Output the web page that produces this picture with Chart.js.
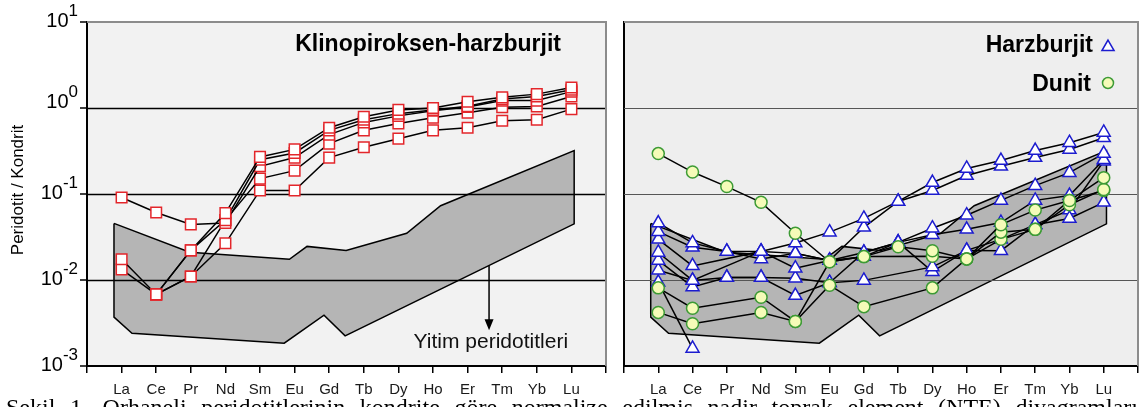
<!DOCTYPE html>
<html>
<head>
<meta charset="utf-8">
<script src="https://cdn.jsdelivr.net/npm/chart.js@4.4.1/dist/chart.umd.min.js"></script>
<style>
  body { margin: 0; width: 1147px; height: 407px; overflow: hidden; background: #fff; position: relative; }
  #left { position: absolute; left: 0; top: 0; }
  #right { position: absolute; left: 615px; top: 0; }
  #caption { position: absolute; left: 6px; top: 395px; width: 1132px; font: 24px/24px "Liberation Serif", serif; white-space: nowrap; text-align: justify; text-align-last: justify; color: #000; }
</style>
</head>
<body>
<canvas id="left" width="615" height="407"></canvas>
<canvas id="right" width="532" height="407"></canvas>
<div id="caption">Şekil 1. Orhaneli peridotitlerinin kondrite göre normalize edilmiş nadir toprak element (NTE) diyagramları</div>
<script>
const ree = ['La', 'Ce', 'Pr', 'Nd', 'Sm', 'Eu', 'Gd', 'Tb', 'Dy', 'Ho', 'Er', 'Tm', 'Yb', 'Lu']
const decades = [10, 1, 0.1, 0.01, 0.001]

// yitim peridotitleri alani (kose noktalari, x = NTE sirasi)
const fieldX = [0.78, 2.97, 5.85, 6.36, 7.49, 9.24, 10.22, 14.08, 14.08, 7.46, 6.85, 5.70, 1.30, 0.78, 0.78]
const fieldY = [0.0455, 0.021, 0.0174, 0.0246, 0.022, 0.035, 0.073, 0.32, 0.045, 0.00224, 0.0039, 0.00184, 0.0024, 0.0037, 0.0455]

// klinopiroksen-harzburjit
const kh1 = [null, 0.0068, 0.0221, 0.060, 0.27, 0.33, 0.59, 0.79, 0.95, 1.0, 1.18, 1.33, 1.45, 1.73]
const kh2 = [null, 0.0068, 0.0221, 0.0497, 0.25, 0.30, 0.55, 0.73, 0.86, 0.95, 1.05, 1.27, 1.36, 1.63]
const kh3 = [0.091, 0.061, 0.0443, 0.046, 0.21, 0.265, 0.49, 0.68, 0.81, 0.93, 1.03, 1.22, 1.22, 1.55]
const kh4 = [0.0174, 0.0068, 0.011, 0.0497, 0.151, 0.187, 0.385, 0.55, 0.66, 0.77, 0.88, 1.02, 1.04, 1.36]
const kh5 = [0.0133, 0.0068, 0.011, 0.0267, 0.11, 0.11, 0.265, 0.35, 0.44, 0.55, 0.59, 0.71, 0.73, 0.97]

// harzburjit
const hz1 = [0.046, 0.027, 0.0215, 0.0215, 0.027, 0.036, 0.052, 0.082, 0.136, 0.198, 0.245, 0.32, 0.395, 0.52]
const hz2 = [0.0365, 0.024, 0.0215, 0.0176, 0.0204, 0.0169, 0.041, 0.082, 0.11, 0.164, 0.21, 0.265, 0.33, 0.45]
const hz3 = [0.0297, 0.0146, null, 0.0215, 0.0137, 0.0169, 0.0209, 0.0274, 0.040, 0.0567, 0.0843, 0.125, 0.177, 0.295]
const hz4 = [0.0209, 0.0099, 0.0107, 0.0107, 0.0105, 0.0093, 0.0209, 0.0274, 0.0336, 0.0388, 0.0465, 0.0843, 0.096, 0.25]
const hz5 = [0.0169, 0.0083, 0.0107, 0.0107, 0.0066, 0.0093, 0.0099, null, 0.0142, 0.0221, 0.0219, 0.044, 0.052, 0.08]
const hz6 = [0.013, 0.0099, null, 0.0215, 0.0204, 0.0169, 0.0187, 0.0274, 0.0125, 0.0221, 0.0297, 0.044, 0.065, 0.24]
const hz7 = [0.0094, 0.0016, null, null, null, null, null, null, null, null, null, null, null, null]

// dunit
const dn1 = [0.295, 0.18, 0.122, 0.08, 0.035, 0.0163, 0.0187, 0.0244, 0.0219, 0.0176, 0.044, 0.065, 0.084, 0.155]
const dn2 = [0.0081, 0.0047, null, 0.0063, 0.0033, 0.0087, 0.0049, null, 0.0081, 0.0176, 0.036, 0.0388, 0.075, 0.113]
const dn3 = [0.0042, 0.0031, null, 0.0042, 0.0033, 0.0163, 0.0187, null, 0.0189, 0.0176, 0.0297, 0.0388, 0.084, 0.11]

const font = '"Liberation Sans", Arial, sans-serif'
const red = '#e3262b'
const blue = '#1c1ccf'
const green = '#3d9b35'
const yellow = '#f5fbb8'

const pts = vals => vals.map((v, i) => ({ x: i + 1, y: v }))

const field = () => ({
  data: fieldX.map((x, i) => ({ x, y: fieldY[i] })),
  borderColor: '#000', borderWidth: 1.5, backgroundColor: '#b5b5b5',
  fill: 'shape', pointRadius: 0, order: 9
})

const sample = (vals, marker, order) => Object.assign({
  data: pts(vals),
  borderColor: '#000', borderWidth: 1.5, spanGaps: true, fill: false,
  pointBorderWidth: 1.5, order
}, marker)

const square = { pointStyle: 'rect', pointRadius: 7.5, pointBorderColor: red, pointBackgroundColor: '#fff' }
const triangle = { pointStyle: 'triangle', pointRadius: 7.5, pointBorderColor: blue, pointBackgroundColor: '#fff' }
const circle = { pointStyle: 'circle', pointRadius: 6, pointBorderColor: green, pointBackgroundColor: yellow }

const panel = (bg, gridColor, gridWidth, extra) => ({
  id: 'panel',
  beforeDraw (chart) {
    const { ctx, chartArea: a } = chart
    ctx.save()
    ctx.fillStyle = bg
    ctx.fillRect(a.left, a.top, a.width, a.height)
    ctx.restore()
  },
  afterDatasetDraw (chart, args) {
    if (args.index !== 0) return
    const { ctx, chartArea: a, scales: { y } } = chart
    ctx.save()
    ctx.strokeStyle = gridColor
    ctx.lineWidth = gridWidth
    decades.slice(1, 4).forEach(v => {
      const py = Math.round(y.getPixelForValue(v)) + 0.5
      ctx.beginPath()
      ctx.moveTo(a.left, py)
      ctx.lineTo(a.right, py)
      ctx.stroke()
    })
    ctx.restore()
  },
  afterDraw (chart) {
    const { ctx, chartArea: a } = chart
    ctx.save()
    ctx.strokeStyle = '#8c8c8c'
    ctx.lineWidth = 2
    ctx.beginPath()
    ctx.moveTo(a.left, a.top)
    ctx.lineTo(a.right, a.top)
    ctx.lineTo(a.right, a.bottom)
    ctx.stroke()
    ctx.restore()
    ctx.save()
    extra(chart)
    ctx.restore()
  }
})

const options = (yWidth, padRight) => ({
  responsive: false,
  animation: false,
  devicePixelRatio: 1,
  layout: { padding: { top: 22, right: padRight, left: 0, bottom: 0 } },
  plugins: { legend: { display: false }, tooltip: { enabled: false } },
  scales: {
    x: {
      type: 'linear', min: 0, max: 15,
      afterFit: s => { s.height = 41 },
      ticks: {
        stepSize: 1, autoSkip: false, maxRotation: 0, padding: 8, color: '#1a1a1a',
        font: { family: font, size: 15 },
        callback: v => ree[v - 1] || ''
      },
      grid: { drawOnChartArea: false, color: '#000', lineWidth: 1.5, tickLength: 7 },
      border: { color: '#000', width: 2 }
    },
    y: {
      type: 'logarithmic', min: 0.001, max: 10,
      afterFit: s => { s.width = yWidth },
      ticks: { display: false },
      grid: { display: false },
      border: { color: '#000', width: 2 }
    }
  }
})

const drawLeftText = chart => {
  const { ctx, chartArea: a, scales: { x, y } } = chart
  ctx.fillStyle = '#000'
  ctx.strokeStyle = '#000'
  ctx.lineWidth = 1.5
  ctx.textBaseline = 'alphabetic'
  ctx.textAlign = 'right'
  decades.forEach(v => {
    const py = y.getPixelForValue(v)
    const e = String(Math.round(Math.log10(v)))
    const dy = v === 1 ? -5 : 0
    ctx.font = `17px ${font}`
    const ew = ctx.measureText(e).width
    ctx.fillText(e, 78, py - 6 + dy)
    ctx.font = `20px ${font}`
    ctx.fillText('10', 78 - ew, py + 5 + dy)
    ctx.beginPath()
    ctx.moveTo(a.left - 7, py)
    ctx.lineTo(a.left, py)
    ctx.stroke()
  })

  ctx.save()
  ctx.translate(18, (a.top + a.bottom) / 2 - 4)
  ctx.rotate(-Math.PI / 2)
  ctx.textAlign = 'center'
  ctx.textBaseline = 'middle'
  ctx.font = `17px ${font}`
  ctx.fillText('Peridotit / Kondrit', 0, 0)
  ctx.restore()

  ctx.textAlign = 'right'
  ctx.font = `bold 23px ${font}`
  ctx.fillText('Klinopiroksen-harzburjit', a.right - 45, a.top + 29)

  // ok ve yitim peridotitleri etiketi
  const ax = x.getPixelForValue(11.62)
  const y1 = y.getPixelForValue(0.0147)
  const y2 = y.getPixelForValue(0.0026)
  ctx.beginPath()
  ctx.moveTo(ax, y1)
  ctx.lineTo(ax, y2 - 8)
  ctx.stroke()
  ctx.beginPath()
  ctx.moveTo(ax, y2)
  ctx.lineTo(ax - 4.5, y2 - 11)
  ctx.lineTo(ax + 4.5, y2 - 11)
  ctx.closePath()
  ctx.fill()
  ctx.textAlign = 'left'
  ctx.font = `21px ${font}`
  ctx.fillStyle = '#111'
  ctx.fillText('Yitim peridotitleri', x.getPixelForValue(9.44), y.getPixelForValue(0.0016))
}

const drawRightLegend = chart => {
  const { ctx, chartArea: a } = chart
  ctx.fillStyle = '#000'
  ctx.textAlign = 'right'
  ctx.textBaseline = 'alphabetic'
  ctx.font = `bold 23px ${font}`
  ctx.fillText('Harzburjit', a.right - 45, a.top + 30)
  ctx.fillText('Dunit', a.right - 47, a.top + 69)
  ctx.lineWidth = 1.5
  ctx.strokeStyle = blue
  ctx.fillStyle = '#fff'
  Chart.helpers.drawPoint(ctx, { pointStyle: 'triangle', radius: 7, borderWidth: 1.5, rotation: 0 }, a.right - 30, a.top + 25)
  ctx.strokeStyle = green
  ctx.fillStyle = yellow
  Chart.helpers.drawPoint(ctx, { pointStyle: 'circle', radius: 5.5, borderWidth: 1.5, rotation: 0 }, a.right - 30, a.top + 61)
}

new Chart(document.getElementById('left'), {
  type: 'line',
  data: {
    datasets: [field()].concat([kh1, kh2, kh3, kh4, kh5].map(v => sample(v, square, 1)))
  },
  options: options(87, 7),
  plugins: [panel('#f2f2f2', '#000', 1.5, drawLeftText)]
})

new Chart(document.getElementById('right'), {
  type: 'line',
  data: {
    datasets: [field()]
      .concat([hz1, hz2, hz3, hz4, hz5, hz6, hz7].map(v => sample(v, triangle, 2)))
      .concat([dn1, dn2, dn3].map(v => sample(v, circle, 1)))
  },
  options: options(7, 4),
  plugins: [panel('#eeeeee', '#555', 1, drawRightLegend)]
})
</script>
</body>
</html>
